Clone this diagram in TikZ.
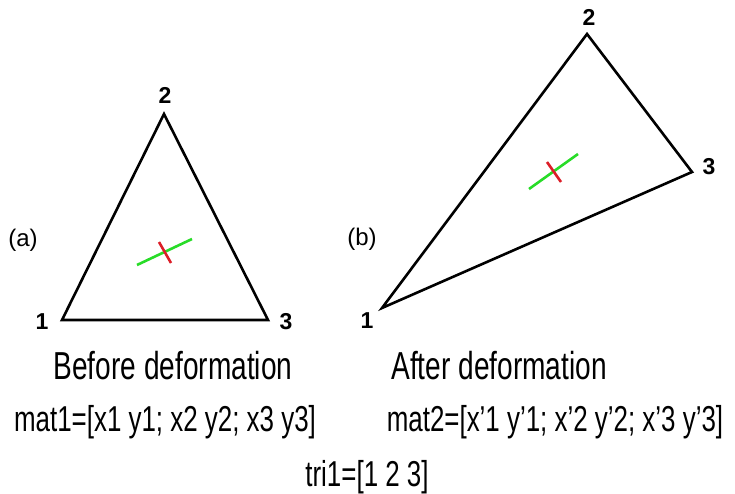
\documentclass[tikz,border=0pt]{standalone}
\usepackage{fontspec}
\setmainfont{Liberation Sans}
\definecolor{lgreen}{RGB}{40,220,40}
\definecolor{lred}{RGB}{220,30,40}
\begin{document}
\begin{tikzpicture}[x=1pt,y=-1pt,
  edge/.style={line width=2.6pt,line join=miter},
  vlabel/.style={font=\fontsize{23}{26}\selectfont\bfseries,inner sep=0pt},
  tag/.style={font=\fontsize{24}{28}\selectfont,inner sep=0pt},
  caption/.style={font=\fontsize{36}{40}\selectfont,inner sep=0pt,xscale=0.72,transform shape},
  bigcaption/.style={font=\fontsize{39}{44}\selectfont,inner sep=0pt,xscale=0.72,transform shape},
  gline/.style={lgreen,line width=2.6pt},
  rline/.style={lred,line width=2.6pt}]
\useasboundingbox (0,0) rectangle (735,494);
% triangle (a)
\coordinate (a1) at (62,320);
\coordinate (a2) at (164,114);
\coordinate (a3) at (268,320);
\draw[edge] (a1) -- (a2) -- (a3) -- cycle;
\node[vlabel] (la1) at (42,322) {1};
\node[vlabel] (la2) at (165,95) {2};
\node[vlabel] (la3) at (286,322) {3};
\node[tag] (ta) at (23,240) {(a)};
\coordinate (ag1) at (137,265);
\coordinate (ag2) at (192,239);
\coordinate (ar1) at (159,242);
\coordinate (ar2) at (171,263);
\draw[gline] (ag1) -- (ag2);
\draw[rline] (ar1) -- (ar2);
% triangle (b)
\coordinate (b1) at (382,308);
\coordinate (b2) at (587,34);
\coordinate (b3) at (692,172);
\draw[edge] (b1) -- (b2) -- (b3) -- cycle;
\node[vlabel] (lb1) at (367,321) {1};
\node[vlabel] (lb2) at (589,17) {2};
\node[vlabel] (lb3) at (709,167) {3};
\node[tag] (tb) at (362,239) {(b)};
\coordinate (bg1) at (529,189);
\coordinate (bg2) at (578,154);
\coordinate (br1) at (547,162);
\coordinate (br2) at (561,182);
\draw[gline] (bg1) -- (bg2);
\draw[rline] (br1) -- (br2);
% captions
\node[bigcaption] (cbefore) at (173,366) {Before deformation};
\node[bigcaption] (cafter) at (499,366) {After deformation};
\node[caption] (cmat1) at (165,422) {mat1=[x1 y1; x2 y2; x3 y3]};
\node[caption] (cmat2) at (555,422) {mat2=[x’1 y’1; x’2 y’2; x’3 y’3]};
\node[caption] (ctri) at (367,477) {tri1=[1 2 3]};
\end{tikzpicture}
\end{document}
